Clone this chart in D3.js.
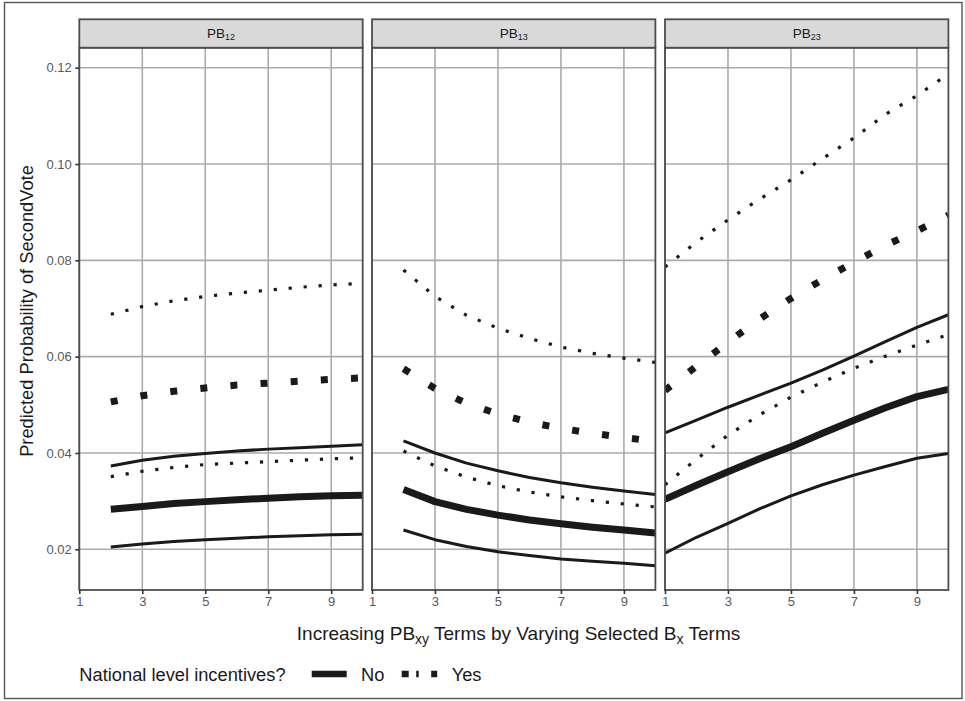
<!DOCTYPE html>
<html><head><meta charset="utf-8">
<script src="https://cdn.jsdelivr.net/npm/d3@7"></script>
<style>body{margin:0;background:#fff} svg{display:block} text{font-family:"Liberation Sans",Arial,Helvetica,sans-serif}</style>
</head><body><svg id="c" width="965" height="701"></svg>
<script>
// ---------- data ----------
const xTicks = [1, 3, 5, 7, 9];
const yTicks = [0.02, 0.04, 0.06, 0.08, 0.10, 0.12];
const yTickLabels = ["0.02", "0.04", "0.06", "0.08", "0.10", "0.12"];
const panelSubs = ["12", "13", "23"];
const x2to10 = [2, 3, 4, 5, 6, 7, 8, 9, 10];
const x1to10 = [1, 2, 3, 4, 5, 6, 7, 8, 9, 10];

// PB12
const pb12NoEst  = [0.0283, 0.0289, 0.0295, 0.0299, 0.0303, 0.0306, 0.0309, 0.0311, 0.0312];
const pb12NoLo   = [0.0205, 0.0211, 0.0216, 0.0220, 0.0223, 0.0226, 0.0228, 0.0230, 0.0231];
const pb12NoHi   = [0.0373, 0.0385, 0.0393, 0.0399, 0.0404, 0.0408, 0.0411, 0.0414, 0.0417];
const pb12YesEst = [0.0506, 0.0519, 0.0528, 0.0535, 0.0541, 0.0545, 0.0549, 0.0553, 0.0556];
const pb12YesLo  = [0.0351, 0.0362, 0.0370, 0.0376, 0.0379, 0.0382, 0.0385, 0.0388, 0.0390];
const pb12YesHi  = [0.0688, 0.0704, 0.0716, 0.0725, 0.0732, 0.0738, 0.0744, 0.0749, 0.0752];
// PB13
const pb13NoEst  = [0.0324, 0.0299, 0.0283, 0.0271, 0.0261, 0.0253, 0.0246, 0.0240, 0.0234];
const pb13NoLo   = [0.0240, 0.0220, 0.0206, 0.0195, 0.0187, 0.0180, 0.0175, 0.0171, 0.0166];
const pb13NoHi   = [0.0425, 0.0400, 0.0379, 0.0363, 0.0349, 0.0338, 0.0329, 0.0321, 0.0314];
const pb13YesEst = [0.0575, 0.0534, 0.0503, 0.0481, 0.0464, 0.0451, 0.0441, 0.0432, 0.0424];
const pb13YesLo  = [0.0404, 0.0373, 0.0350, 0.0332, 0.0319, 0.0309, 0.0301, 0.0294, 0.0288];
const pb13YesHi  = [0.0780, 0.0725, 0.0686, 0.0659, 0.0638, 0.0620, 0.0607, 0.0597, 0.0588];
// PB23
const pb23NoEst  = [0.0304, 0.0333, 0.0361, 0.0388, 0.0413, 0.0441, 0.0468, 0.0494, 0.0517, 0.0532];
const pb23NoLo   = [0.0192, 0.0225, 0.0254, 0.0284, 0.0311, 0.0334, 0.0354, 0.0372, 0.0389, 0.0399];
const pb23NoHi   = [0.0442, 0.0468, 0.0495, 0.0520, 0.0545, 0.0572, 0.0601, 0.0631, 0.0661, 0.0687];
const pb23YesEst = [0.0530, 0.0580, 0.0630, 0.0678, 0.0721, 0.0760, 0.0796, 0.0831, 0.0861, 0.0894];
const pb23YesLo  = [0.0334, 0.0387, 0.0437, 0.0479, 0.0516, 0.0547, 0.0576, 0.0601, 0.0624, 0.0646];
const pb23YesHi  = [0.0786, 0.0838, 0.0884, 0.0927, 0.0967, 0.1011, 0.1054, 0.1103, 0.1142, 0.1187];

const legendTitle = "National level incentives?";
const legendLabels = ["No", "Yes"];

// ---------- layout ----------
const svg = d3.select("#c");
const panelLefts = [79.3, 372, 665];
const panelW = 283.4;
const stripTop = 19.3, panelTop = 47.7, panelBottom = 590;
const ink = "#1a1a1a";
const FONT = '"Liberation Sans",Arial,Helvetica,sans-serif';

const x = d3.scaleLinear().domain([1, 10]).range([0, panelW]);
const y = d3.scaleLinear().domain([0.01155, 0.12415]).range([panelBottom, panelTop]);

const styles = {
  noEst:  {w: 7,   dash: null},
  noCI:   {w: 3,   dash: null},
  yesEst: {w: 7,   dash: "7,23.2"},
  yesCI:  {w: 3.2, dash: "3.2,11.8"}
};

const panels = [
  {sub: panelSubs[0], xs: x2to10, series: [
    [pb12NoLo, "noCI"], [pb12NoHi, "noCI"], [pb12NoEst, "noEst"],
    [pb12YesLo, "yesCI"], [pb12YesHi, "yesCI"], [pb12YesEst, "yesEst"]]},
  {sub: panelSubs[1], xs: x2to10, series: [
    [pb13NoLo, "noCI"], [pb13NoHi, "noCI"], [pb13NoEst, "noEst"],
    [pb13YesLo, "yesCI"], [pb13YesHi, "yesCI"], [pb13YesEst, "yesEst"]]},
  {sub: panelSubs[2], xs: x1to10, series: [
    [pb23NoLo, "noCI"], [pb23NoHi, "noCI"], [pb23NoEst, "noEst"],
    [pb23YesLo, "yesCI"], [pb23YesHi, "yesCI"], [pb23YesEst, "yesEst"]]}
];

// outer border
svg.append("rect").attr("x", 4.5).attr("y", 2.5).attr("width", 957.5).attr("height", 696)
  .attr("fill", "none").attr("stroke", "#555").attr("stroke-width", 1.4);

const line = d3.line().x(d => x(d[0])).y(d => y(d[1])).curve(d3.curveLinear);

panels.forEach((p, i) => {
  const g = svg.append("g").attr("transform", `translate(${panelLefts[i]},0)`);
  const clipId = "clip" + i;
  g.append("clipPath").attr("id", clipId).append("rect")
    .attr("x", 0).attr("y", panelTop).attr("width", panelW).attr("height", panelBottom - panelTop);
  // grid
  g.append("g").selectAll("line").data(yTicks).join("line")
    .attr("x1", 0).attr("x2", panelW).attr("y1", d => y(d)).attr("y2", d => y(d))
    .attr("stroke", "#ababab").attr("stroke-width", 1.6);
  g.append("g").selectAll("line").data(xTicks).join("line")
    .attr("x1", d => x(d)).attr("x2", d => x(d)).attr("y1", panelTop).attr("y2", panelBottom)
    .attr("stroke", "#ababab").attr("stroke-width", 1.6);
  // lines
  const lg = g.append("g").attr("clip-path", `url(#${clipId})`);
  p.series.forEach(([vals, type]) => {
    const st = styles[type];
    lg.append("path").datum(p.xs.map((xv, k) => [xv, vals[k]]))
      .attr("d", line).attr("fill", "none").attr("stroke", ink)
      .attr("stroke-width", st.w).attr("stroke-linecap", "butt").attr("stroke-linejoin", "round")
      .attr("stroke-dasharray", st.dash);
  });
  // panel border
  g.append("rect").attr("x", 0).attr("y", panelTop).attr("width", panelW).attr("height", panelBottom - panelTop)
    .attr("fill", "none").attr("stroke", "#4d4d4d").attr("stroke-width", 1.8);
  // strip
  g.append("rect").attr("x", 0).attr("y", stripTop).attr("width", panelW).attr("height", panelTop - stripTop)
    .attr("fill", "#d9d9d9").attr("stroke", "#4d4d4d").attr("stroke-width", 1.8);
  const st = g.append("text").attr("x", panelW / 2).attr("y", 38).attr("text-anchor", "middle")
    .attr("font-size", 13.5).attr("fill", ink);
  st.append("tspan").text("PB");
  st.append("tspan").attr("font-size", 9).attr("dy", 2).text(p.sub);
  // x axis
  const xa = g.append("g").attr("transform", `translate(0,${panelBottom})`)
    .call(d3.axisBottom(x).tickValues(xTicks).tickFormat(d3.format("d")).tickSize(4).tickPadding(3));
  xa.select(".domain").remove();
  xa.selectAll(".tick line").attr("stroke", "#333").attr("stroke-width", 1.6);
  xa.selectAll(".tick text").attr("font-size", 13).attr("fill", "#595959").attr("font-family", FONT);
  if (i === 0) {
    const ya = g.append("g")
      .call(d3.axisLeft(y).tickValues(yTicks).tickFormat((d, k) => yTickLabels[k]).tickSize(4).tickPadding(3.5));
    ya.select(".domain").remove();
    ya.selectAll(".tick line").attr("stroke", "#333").attr("stroke-width", 1.6);
    ya.selectAll(".tick text").attr("font-size", 13).attr("fill", "#595959").attr("font-family", FONT);
  }
});

// axis titles
const xt = svg.append("text").attr("x", 518.5).attr("y", 640).attr("text-anchor", "middle")
  .attr("font-size", 19).attr("fill", ink);
xt.append("tspan").text("Increasing PB");
xt.append("tspan").attr("font-size", 14).attr("dy", 4).text("xy");
xt.append("tspan").attr("dy", -4).text(" Terms by Varying Selected B");
xt.append("tspan").attr("font-size", 14).attr("dy", 4).text("x");
xt.append("tspan").attr("dy", -4).text(" Terms");

svg.append("text").attr("transform", "translate(33,311) rotate(-90)").attr("text-anchor", "middle")
  .attr("font-size", 18.3).attr("fill", ink).text("Predicted Probability of SecondVote");

// legend
const legY = 674;
svg.append("text").attr("x", 79.3).attr("y", legY + 6.5).attr("font-size", 18.3).attr("fill", ink).text(legendTitle);
svg.append("line").attr("x1", 311.7).attr("x2", 346.7).attr("y1", legY).attr("y2", legY)
  .attr("stroke", ink).attr("stroke-width", 6.5);
svg.append("text").attr("x", 361).attr("y", legY + 6.5).attr("font-size", 18.3).attr("fill", ink).text(legendLabels[0]);
svg.append("line").attr("x1", 401.7).attr("x2", 437.5).attr("y1", legY).attr("y2", legY)
  .attr("stroke", ink).attr("stroke-width", 6.5).attr("stroke-dasharray", "7,7.5,2.5,12.5,6");
svg.append("text").attr("x", 451.7).attr("y", legY + 6.5).attr("font-size", 18.3).attr("fill", ink).text(legendLabels[1]);
</script></body></html>
